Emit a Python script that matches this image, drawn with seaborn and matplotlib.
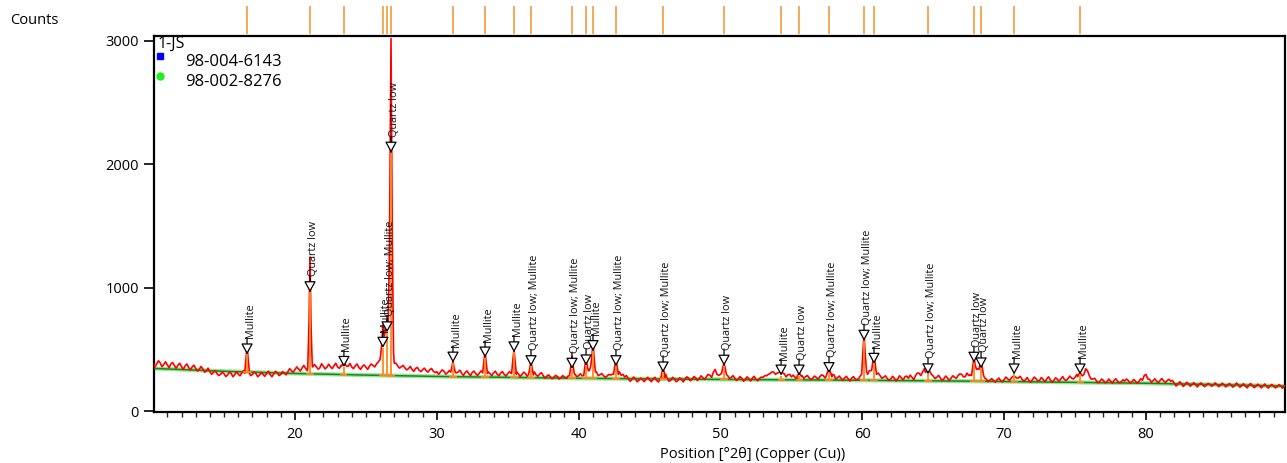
import numpy as np
import pandas as pd
import matplotlib
matplotlib.use("Agg")
import matplotlib.pyplot as plt
import seaborn as sns

# ---------------- data ----------------
scan_start = 10.0
scan_step = 0.25
# observed counts on the 0.25 deg grid (baseline regions)
scan_counts = [
    398, 385, 392, 380, 376, 384, 370, 374, 362, 368, 356, 360, 348, 340, 344, 328, 322, 316, 306, 300,   # 10-14.75
    304, 296, 308, 298, 302, 312, 310, 306, 298, 306, 294, 300, 308, 298, 304, 312, 300, 310, 322, 330,   # 15-19.75
    338, 344, 352, 348, 350, 360, 362, 352, 366, 358, 362, 370, 360, 372, 376, 366, 360, 368, 356, 364,   # 20-24.75
    358, 366, 372, 385, 420, 600, 700, 1000, 390, 366, 362, 352, 346, 340, 348, 334, 338, 330, 336, 326,  # 25-29.75
    322, 318, 326, 312, 318, 330, 318, 308, 314, 306, 316, 304, 310, 312, 330, 306, 312, 302, 310, 300,   # 30-34.75
    306, 310, 320, 304, 298, 306, 300, 320, 296, 302, 290, 284, 280, 276, 282, 272, 278, 286, 300, 300,   # 35-39.75
    290, 288, 360, 330, 400, 320, 296, 290, 286, 294, 300, 320, 292, 278, 266, 258, 264, 252, 258, 262,   # 40-44.75
    256, 262, 250, 262, 300, 264, 254, 262, 250, 258, 262, 268, 260, 272, 266, 274, 280, 292, 318, 300,   # 45-49.75
    300, 350, 290, 274, 270, 262, 268, 258, 264, 270, 260, 266, 276, 288, 306, 318, 310, 320, 304, 296,   # 50-54.75
    280, 276, 300, 290, 282, 272, 268, 276, 280, 290, 320, 320, 296, 274, 268, 272, 264, 270, 262, 268,   # 55-59.75
    500, 480, 330, 420, 300, 290, 276, 268, 262, 270, 264, 272, 280, 268, 276, 290, 310, 320, 330, 320,   # 60-64.75
    286, 276, 270, 264, 272, 268, 276, 290, 300, 280, 290, 380, 380, 380, 300, 260, 252, 248, 256, 250,   # 65-69.75
    258, 264, 270, 280, 270, 262, 256, 250, 258, 264, 252, 258, 262, 256, 250, 260, 264, 258, 266, 270,   # 70-74.75
    276, 290, 300, 345, 290, 262, 248, 244, 250, 240, 246, 252, 244, 238, 246, 250, 240, 246, 242, 252,   # 75-79.75
    300, 260, 248, 244, 252, 246, 250, 244, 226, 220, 224, 216, 222, 218, 214, 220, 216, 212, 220, 214,   # 80-84.75
    218, 212, 216, 210, 214, 208, 216, 210, 206, 212, 208, 204, 210, 206, 202, 208, 204, 200, 206, 204,   # 85-89.75
]
# observed counts half-way between the grid points (10.125, 10.375, ...)
scan_counts_mid = [
    360, 410, 362, 402, 354, 396, 350, 390, 340, 384, 336, 374, 326, 364, 318, 350, 300, 330, 290, 318,
    282, 318, 280, 322, 288, 330, 300, 290, 320, 280, 316, 284, 326, 280, 324, 290, 322, 296, 346, 318,
    360, 326, 372, 330, 360, 380, 342, 386, 344, 382, 346, 390, 348, 392, 350, 388, 346, 384, 340, 376,
    340, 384, 360, 400, 430, 600, 700, 1000, 390, 350, 372, 336, 364, 324, 356, 322, 350, 318, 348, 314,
    300, 336, 302, 330, 318, 312, 334, 292, 328, 290, 326, 292, 328, 296, 320, 290, 326, 288, 322, 286,
    322, 310, 320, 282, 318, 284, 310, 320, 284, 314, 270, 296, 264, 292, 262, 290, 268, 292, 300, 280,
    304, 282, 360, 330, 400, 290, 306, 276, 300, 302, 300, 320, 300, 290, 244, 278, 240, 270, 240, 276,
    240, 276, 238, 274, 300, 244, 276, 240, 272, 238, 280, 248, 282, 250, 288, 258, 300, 276, 340, 292,
    310, 350, 268, 290, 250, 282, 244, 280, 246, 284, 248, 278, 290, 300, 320, 300, 330, 320, 280, 300,
    294, 260, 300, 268, 290, 256, 286, 260, 296, 270, 320, 300, 262, 286, 250, 284, 246, 282, 254, 290,
    500, 300, 330, 420, 310, 268, 288, 250, 284, 246, 288, 254, 286, 294, 256, 310, 290, 346, 330, 300,
    266, 292, 250, 286, 250, 288, 268, 304, 280, 310, 296, 380, 345, 380, 272, 240, 266, 236, 270, 238,
    278, 250, 280, 280, 284, 244, 274, 236, 278, 244, 274, 240, 280, 236, 272, 244, 282, 250, 286, 262,
    300, 300, 300, 330, 262, 268, 230, 262, 230, 262, 228, 264, 232, 256, 262, 230, 258, 228, 264, 290,
    262, 236, 264, 232, 266, 234, 260, 250, 206, 240, 202, 236, 204, 232, 198, 230, 200, 226, 204, 230,
    200, 228, 198, 226, 196, 230, 196, 224, 190, 226, 192, 220, 190, 222, 188, 218, 190, 216, 188, 210,
]

# observed peak profiles (2theta, counts), one group per reflection / cluster
peak_profile_2theta = [
    [16.45, 16.55, 16.62, 16.70, 16.80],
    [20.90, 20.99, 21.06, 21.13, 21.22],
    [23.30, 23.38, 23.45, 23.55, 23.63],
    [26.02, 26.10, 26.20, 26.30, 26.40, 26.49, 26.57, 26.66, 26.77, 26.86, 26.95],
    [30.98, 31.07, 31.14, 31.22, 31.31],
    [33.23, 33.32, 33.40, 33.48, 33.57],
    [35.27, 35.36, 35.44, 35.52, 35.61],
    [36.47, 36.56, 36.64, 36.72, 36.81],
    [39.36, 39.45, 39.53, 39.61, 39.70],
    [40.36, 40.44, 40.52, 40.60, 40.68],
    [40.84, 40.93, 41.01, 41.09, 41.18],
    [42.46, 42.55, 42.63, 42.71, 42.80],
    [45.78, 45.88, 45.95, 46.03, 46.12],
    [50.08, 50.17, 50.25, 50.33, 50.42],
    [54.10, 54.20, 54.27, 54.35, 54.44],
    [55.40, 55.48, 55.54, 55.62, 55.70],
    [57.45, 57.55, 57.65, 57.75, 57.85],
    [59.95, 60.04, 60.12, 60.20, 60.30],
    [60.65, 60.74, 60.82, 60.90, 61.00],
    [64.45, 64.55, 64.63, 64.72, 64.82],
    [67.70, 67.80, 67.87, 67.95, 68.05],
    [68.22, 68.30, 68.37, 68.45, 68.55],
    [70.50, 70.60, 70.70, 70.80, 70.90],
    [75.18, 75.27, 75.35, 75.44, 75.52],
]
peak_profile_counts = [
    [310, 430, 540, 420, 305],
    [355, 720, 1250, 700, 365],
    [368, 388, 396, 380, 366],
    [440, 520, 700, 610, 680, 740, 720, 1300, 3020, 1400, 470],
    [318, 365, 407, 352, 314],
    [312, 405, 488, 395, 306],
    [306, 415, 501, 410, 300],
    [300, 352, 407, 348, 296],
    [290, 375, 447, 370, 300],
    [292, 365, 436, 372, 330],
    [360, 440, 569, 430, 320],
    [300, 370, 420, 365, 300],
    [262, 320, 348, 318, 266],
    [310, 360, 390, 350, 298],
    [314, 322, 326, 318, 306],
    [282, 300, 313, 298, 284],
    [285, 320, 340, 318, 280],
    [300, 480, 636, 470, 320],
    [330, 400, 447, 390, 300],
    [315, 330, 340, 332, 310],
    [290, 380, 436, 380, 340],
    [340, 380, 407, 360, 290],
    [270, 280, 285, 278, 270],
    [282, 300, 315, 298, 288],
]

# background curve
background_2theta = [10.0, 15.0, 20.0, 25.0, 30.0, 40.0, 50.0, 60.0, 70.0, 80.0, 89.8]
background_counts = [348, 325, 307, 294, 283, 268, 259, 252, 242, 228, 205]

# identified reflections
ref_2theta = [16.62, 21.06, 23.45, 26.20, 26.49, 26.77, 31.14, 33.40, 35.44, 36.64,
              39.53, 40.52, 41.01, 42.63, 45.95, 50.25, 54.27, 55.54, 57.65, 60.12,
              60.82, 64.63, 67.87, 68.37, 70.70, 75.35]
ref_counts = [461, 965, 360, 515, 640, 2095, 395, 436, 478, 366,
              345, 372, 488, 366, 315, 370, 290, 290, 310, 572,
              385, 300, 394, 348, 299, 299]
ref_labels = ["Mullite", "Quartz low", "Mullite", "Mullite", "Quartz low; Mullite", "Quartz low",
              "Mullite", "Mullite", "Mullite", "Quartz low; Mullite",
              "Quartz low; Mullite", "Quartz low", "Mullite", "Quartz low; Mullite",
              "Quartz low; Mullite", "Quartz low", "Mullite", "Quartz low",
              "Quartz low; Mullite", "Quartz low; Mullite", "Mullite", "Quartz low; Mullite",
              "Quartz low", "Quartz low", "Mullite", "Mullite"]

legend_title = "1-JS"
legend_entries = ["98-004-6143", "98-002-8276"]
x_ticks = [20, 30, 40, 50, 60, 70, 80]
y_ticks = [0, 1000, 2000, 3000]

# ---------------- assemble observed trace ----------------
grid_x = np.concatenate([scan_start + scan_step * np.arange(len(scan_counts)),
                         scan_start + scan_step / 2 + scan_step * np.arange(len(scan_counts_mid))])
grid_y = np.array(scan_counts + scan_counts_mid)
keep = np.ones(len(grid_x), dtype=bool)
for gx in peak_profile_2theta:
    keep &= ~((grid_x > min(gx)) & (grid_x < max(gx)))
obs_x = list(grid_x[keep])
obs_y = list(grid_y[keep])
for gx, gy in zip(peak_profile_2theta, peak_profile_counts):
    obs_x += gx
    obs_y += gy
obs = pd.DataFrame({"two_theta": obs_x, "counts": obs_y}).sort_values("two_theta")
bg = pd.DataFrame({"two_theta": background_2theta, "counts": background_counts})

# ---------------- figure ----------------
sns.set_theme(style="white")
plt.rcParams["font.family"] = ["Open Sans", "DejaVu Sans"]

W, H = 1287, 463
fig = plt.figure(figsize=(W / 100, H / 100), dpi=100)
ax = fig.add_axes([154 / W, 1 - 412 / H, (1285 - 154) / W, (412 - 36) / H])
ax_top = fig.add_axes([154 / W, 1 - 34 / H, (1285 - 154) / W, 28 / H], sharex=ax)

# background (pale band + dark line)
sns.lineplot(data=bg, x="two_theta", y="counts", ax=ax, color="#9ee29e", lw=3.0, zorder=2)
sns.lineplot(data=bg, x="two_theta", y="counts", ax=ax, color="#138a13", lw=1.1, zorder=3)

# observed scan
sns.lineplot(data=obs, x="two_theta", y="counts", ax=ax, color="#ff0000", lw=1.2,
             estimator=None, sort=True, zorder=4)

# reference sticks
stick_base = np.interp(ref_2theta, background_2theta, background_counts)
ax.vlines(ref_2theta, stick_base, ref_counts, color="#ff8a1c", lw=1.3, zorder=5)
ax.hlines(stick_base, np.array(ref_2theta) - 0.25, np.array(ref_2theta) + 0.25,
          color="#ff8a1c", lw=1.3, zorder=5)

# annotations
for x, y, lab in zip(ref_2theta, ref_counts, ref_labels):
    ax.annotate("", xy=(x, y), xytext=(0, 12), textcoords="offset points",
                arrowprops=dict(arrowstyle="-|>,head_length=0.55,head_width=0.3",
                                fc="white", ec="black", lw=0.9, shrinkA=0, shrinkB=0),
                zorder=7)
    ax.annotate(lab, xy=(x, y), xytext=(2.2, 11.5), textcoords="offset points",
                rotation=90, ha="center", va="bottom", fontsize=7.8, color="#111111",
                zorder=7)

# axes styling
ax.set_xlim(10.06, 89.8)
ax.set_ylim(-5, 3040)
ax.set_xticks(x_ticks)
ax.set_xticks(np.arange(11, 90, 1), minor=True)
ax.set_yticks(y_ticks)
ax.set_xlabel("")
ax.set_ylabel("")
for s in ax.spines.values():
    s.set_visible(True)
    s.set_linewidth(1.6)
    s.set_color("black")
ax.tick_params(axis="x", which="major", direction="out", length=6, width=1.2,
               labelsize=10.5, pad=5, bottom=True, colors="black")
ax.tick_params(axis="x", which="minor", direction="out", length=3.5, width=1.0, bottom=True)
ax.tick_params(axis="y", which="major", direction="out", length=7, width=1.2,
               labelsize=10.5, pad=4, left=True, colors="black")
ax.grid(False)

# legend (text + glyphs inside top-left corner)
ax.text(0.0035, 0.978, legend_title, transform=ax.transAxes, ha="left", va="center",
        fontsize=11.5, color="black", zorder=8)
ax.plot([0.0053], [0.947], marker="s", ms=5, color="#0000ff", ls="none",
        transform=ax.transAxes, zorder=8, clip_on=False)
ax.plot([0.0053], [0.894], marker="o", ms=5, color="#22ee22", ls="none",
        transform=ax.transAxes, zorder=8, clip_on=False)
ax.text(0.0274, 0.931, legend_entries[0], transform=ax.transAxes, ha="left", va="center",
        fontsize=12, color="black", zorder=8)
ax.text(0.0274, 0.877, legend_entries[1], transform=ax.transAxes, ha="left", va="center",
        fontsize=12, color="black", zorder=8)

# top strip with reference positions
ax_top.vlines(ref_2theta, 0, 1, color="#f59a3c", lw=1.2)
ax_top.set_ylim(0, 1)
ax_top.axis("off")

fig.text(10 / W, 1 - 21 / H, "Counts", ha="left", va="center", fontsize=10.5, color="black")
fig.text(753 / W, 1 - 455 / H, "Position [°2θ] (Copper (Cu))", ha="center", va="center",
         fontsize=10.5, color="black")

fig.savefig("out.png", dpi=100)
